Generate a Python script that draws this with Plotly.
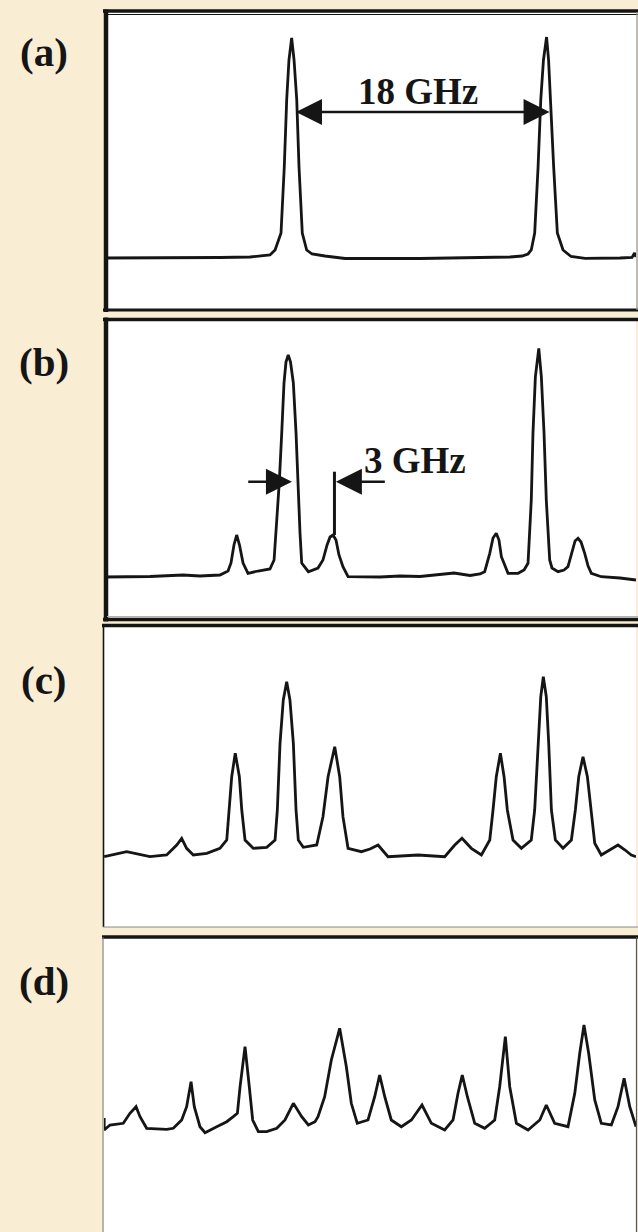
import plotly.graph_objects as go

# ---- spectra: frequency offset (GHz) and transmitted intensity (arb. units) ----
xa = [-0.2, 3.74, 7.97, 10.09, 11.15, 11.50, 11.86, 12.28, 12.51, 12.68, 12.84, 13.03, 13.20, 13.39,
      13.55, 13.78, 14.09, 14.47, 15.38, 16.80, 22.09, 26.32, 28.44, 29.29, 29.71, 29.94, 30.18, 30.42,
      30.61, 30.80, 31.02, 31.16, 31.28, 31.52, 31.78, 32.18, 32.75, 33.73, 36.20, 37.05, 37.23, 37.33]
ya = [51, 51, 51.5, 52, 53, 54, 59, 76, 142, 209, 249, 271, 249, 209,
      142, 76, 59, 55, 53, 50.5, 50.5, 51, 52, 53, 55, 59, 76, 142,
      209, 249, 272, 249, 209, 142, 76, 59, 52.5, 50.7, 51, 51.5, 56, 52]

xb = [-0.2, 3.03, 5.36, 6.56, 7.97, 8.54, 8.75, 8.96, 9.15, 9.35, 9.60, 9.95, 10.66, 11.50, 11.79,
      11.93, 12.16, 12.33, 12.49, 12.63, 12.79, 12.95, 13.15, 13.34, 13.46, 13.62, 13.74, 14.21, 14.89,
      15.24, 15.53, 15.74, 15.95, 16.16, 16.37, 16.65, 17.01, 19.27, 20.68, 22.09, 24.49, 25.62, 26.32,
      26.65, 27.01, 27.24, 27.47, 27.66, 27.83, 28.30, 29.01, 29.43, 29.71, 29.94, 30.06, 30.23, 30.47,
      30.65, 30.84, 31.00, 31.24, 31.40, 31.83, 32.25, 32.53, 32.77, 33.03, 33.24, 33.45, 33.71, 33.95,
      34.18, 34.88, 36.20, 37.33]
yb = [40, 40.5, 42, 41, 42, 46, 54, 72, 82, 72, 54, 43.7, 46, 48, 57,
      84, 135.3, 184, 234, 255, 262, 255, 234, 184, 135.3, 84, 54, 45.3, 49,
      57, 72, 80, 82, 77, 62, 50.3, 40.3, 40, 41, 40.5, 44, 41.5, 43,
      45.3, 63.7, 79, 83.7, 77, 60.3, 43.7, 43.7, 47, 53.7, 117, 184, 240.3, 268.7,
      240.3, 184, 117, 57, 49, 45.3, 47, 50.3, 63.7, 76, 78.7, 75, 63.7, 51,
      43.7, 40.3, 39, 37]

xc = [-0.2, 1.39, 3.03, 4.21, 4.92, 5.27, 5.62, 6.09, 7.04, 7.97, 8.45, 8.63, 8.80, 9.05, 9.34,
      9.51, 9.74, 10.32, 11.27, 11.86, 12.02, 12.21, 12.44, 12.68, 12.91, 13.15, 13.34, 13.50, 13.85,
      14.80, 15.24, 15.60, 16.07, 16.42, 16.65, 17.01, 17.95, 18.56, 19.13, 19.83, 21.95, 23.83, 24.54,
      25.05, 25.71, 26.42, 27.01, 27.24, 27.47, 27.76, 28.02, 28.25, 28.65, 29.24, 29.94, 30.18, 30.42,
      30.61, 30.79, 31.00, 31.17, 31.36, 31.64, 32.18, 32.77, 33.05, 33.29, 33.59, 33.90, 34.14, 34.42,
      34.88, 35.50, 36.06, 36.56, 37.00, 37.33]
yc = [70.3, 75.3, 70.3, 72, 82, 88.7, 78.7, 72, 73.7, 78.7, 87, 117, 150.3, 173.7, 150.3,
      117, 87, 78.7, 79.7, 87, 117, 183.7, 227, 245.3, 227, 183.7, 117, 87, 79.7,
      82, 110.3, 150.3, 180.3, 150.3, 110.3, 78.7, 75.3, 78, 82, 70.3, 72, 70.3, 82,
      88.7, 78.7, 72, 87, 117, 150.3, 173.7, 150.3, 117, 87, 78.7, 87, 117, 183.7,
      230.3, 250.3, 230.3, 183.7, 117, 87, 78.7, 87, 117, 150.3, 170.3, 150.3, 117, 83.7,
      72, 77, 82, 77, 72, 70.3]

xd = [-0.2, -0.2, 0.21, 1.15, 1.62, 2.05, 2.33, 2.80, 4.21, 4.68, 5.27, 5.62, 5.93, 6.16, 6.56,
      6.92, 7.74, 8.45, 8.91, 9.20, 9.39, 9.74, 10.04, 10.28, 10.68, 11.27, 11.98, 12.56, 13.15,
      13.74, 14.21, 14.68, 14.89, 15.36, 15.83, 16.42, 16.89, 17.24, 17.66, 18.42, 18.89, 19.24, 19.60,
      20.06, 20.77, 21.48, 22.23, 22.89, 23.83, 24.42, 24.77, 25.07, 25.43, 25.95, 26.65, 27.36, 27.71,
      28.11, 28.42, 28.89, 29.71, 30.54, 31.00, 31.59, 32.53, 33.01, 33.36, 33.66, 33.99, 34.42, 34.88,
      35.59, 36.06, 36.49, 36.89, 37.33]
yd = [114, 102, 107, 108.7, 118.7, 125.3, 115.3, 103.7, 102.7, 103.7, 112, 125.3, 150.3, 125.3, 105.3,
      99.3, 105.3, 110.3, 115.3, 118.7, 145.3, 185.3, 145.3, 112, 100.3, 100.3, 103.7, 112, 128.7,
      115.3, 107, 110.3, 115.3, 135.3, 172, 203.7, 165.3, 128.7, 108.7, 112, 135.3, 157, 135.3,
      112, 105.3, 112, 127, 108.7, 102, 112, 138.7, 157, 135.3, 108.7, 103.7, 112, 145.3,
      195.3, 145.3, 108.7, 102, 112, 127, 108.7, 105.3, 138.7, 178.7, 207, 178.7, 132, 108.7,
      107, 125.3, 153.7, 125.3, 105.3]

panel_labels = ["(a)", "(b)", "(c)", "(d)"]
mode_spacing_ghz = 18      # spacing of the two main modes, panel (a)
sideband_spacing_ghz = 3   # sideband spacing, panel (b)
main_peak_b = 13.05        # main mode centre used for the 3 GHz marker

# ---- page geometry (pixels) ----
W, H = 638, 1232
X0, X1 = 104, 636
boxes = [(12, 309), (320, 617), (625, 927), (937, 1232)]   # top, bottom of each panel
label_y = [52, 362, 680, 981]
x_range = [-0.212, 37.33]

INK = "#151515"
PAPER = "#F9EDD4"
SERIF = "Liberation Serif, Times New Roman, serif"


def fx(p):
    return p / W


def fy(p):
    return 1 - p / H


fig = go.Figure()
series = [(xa, ya), (xb, yb), (xc, yc), (xd, yd)]
for i, (xs, ys) in enumerate(series):
    n = "" if i == 0 else str(i + 1)
    fig.add_trace(go.Scatter(x=xs, y=ys, mode="lines", xaxis="x" + n, yaxis="y" + n,
                             line=dict(color=INK, width=2.8), hoverinfo="skip",
                             showlegend=False))
    top, bot = boxes[i]
    fig.update_layout({
        "xaxis" + n: dict(domain=[fx(X0), fx(X1)], range=x_range, visible=False,
                          anchor="y" + n, fixedrange=True),
        "yaxis" + n: dict(domain=[fy(bot), fy(top)], range=[0, bot - top], visible=False,
                          anchor="x" + n, fixedrange=True),
    })

# ---- frames around the panels ----
shapes = []


def hline(y, x0, x1, w, color=INK):
    shapes.append(dict(type="line", xref="paper", yref="paper", x0=fx(x0), x1=fx(x1),
                       y0=fy(y), y1=fy(y), line=dict(color=color, width=w)))


def vline(x, y0, y1, w, color=INK):
    shapes.append(dict(type="line", xref="paper", yref="paper", x0=fx(x), x1=fx(x),
                       y0=fy(y0), y1=fy(y1), line=dict(color=color, width=w)))


# (a)
hline(11, 103, 640, 3.5)
hline(14.5, 107, 640, 1)
vline(106, 9.5, 312, 4.5)
hline(310, 103, 640, 3.2)
vline(637, 12, 310, 1.2, "#9a9a9a")
# (b)
hline(319.5, 103, 640, 3.5)
vline(106, 317.5, 621.5, 4.5)
hline(619.5, 103, 640, 3.5)
hline(616.5, 107, 640, 1, "#b0b0b0")
# (c)
hline(625.5, 102, 640, 3.5)
vline(103.5, 624, 927, 1.6)
hline(927, 103, 640, 1, "#8a8a8a")
# (d)
hline(937, 102, 640, 3.5)
vline(103, 937, 1232, 1, "#7a7a7a")
vline(636.5, 937, 1232, 1.2, "#555555")

annotations = []
for lab, ly in zip(panel_labels, label_y):
    annotations.append(dict(text=lab, xref="paper", yref="paper", x=fx(44), y=fy(ly),
                            xanchor="center", yanchor="middle", showarrow=False,
                            font=dict(family=SERIF, size=41, color=INK, weight="bold")))

# 18 GHz double arrow between the two modes of (a)
a_start = xa[ya.index(max(ya[:20]))] + 0.2
a_end = a_start + mode_spacing_ghz
annotations.append(dict(x=a_end, y=197, ax=a_start, ay=197, xref="x", yref="y",
                        axref="x", ayref="y", text="", showarrow=True, arrowhead=2,
                        arrowside="end+start", arrowsize=2.0, arrowwidth=2.6,
                        arrowcolor=INK, standoff=0, startstandoff=0))
annotations.append(dict(text="18 GHz", x=21.95, y=217, xref="x", yref="y",
                        showarrow=False, xanchor="center", yanchor="middle",
                        font=dict(family=SERIF, size=37, color=INK, weight="bold")))

# 3 GHz sideband marker in (b)
side_b = main_peak_b + sideband_spacing_ghz
side_top = yb[xb.index(15.95)]
shapes.append(dict(type="line", xref="x2", yref="y2", x0=side_b, x1=side_b,
                   y0=side_top, y1=145.3, line=dict(color=INK, width=3)))
annotations.append(dict(x=main_peak_b, y=135.3, ax=9.86, ay=135.3, xref="x2", yref="y2",
                        axref="x2", ayref="y2", text="", showarrow=True, arrowhead=2,
                        arrowsize=2.0, arrowwidth=2.6, arrowcolor=INK, standoff=0))
annotations.append(dict(x=side_b + 0.1, y=135.3, ax=19.71, ay=135.3, xref="x2", yref="y2",
                        axref="x2", ayref="y2", text="", showarrow=True, arrowhead=2,
                        arrowsize=2.0, arrowwidth=2.6, arrowcolor=INK, standoff=0))
annotations.append(dict(text="3 GHz", x=21.74, y=156, xref="x2", yref="y2",
                        showarrow=False, xanchor="center", yanchor="middle",
                        font=dict(family=SERIF, size=37, color=INK, weight="bold")))

fig.update_layout(width=W, height=H, margin=dict(l=0, r=0, t=0, b=0),
                  paper_bgcolor=PAPER, plot_bgcolor="white",
                  shapes=shapes, annotations=annotations, showlegend=False)

fig.write_html("out.html", config={"displayModeBar": False})
